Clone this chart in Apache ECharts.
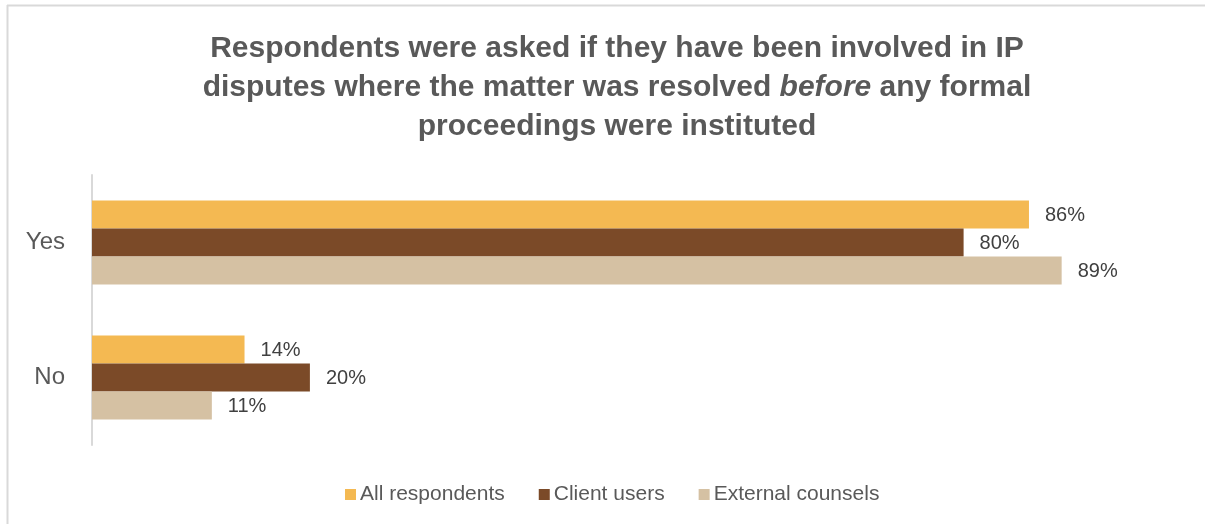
<!DOCTYPE html>
<html>
<head>
<meta charset="utf-8">
<script src="https://cdn.jsdelivr.net/npm/echarts@6/dist/echarts.min.js"></script>
<style>
  html, body { margin: 0; padding: 0; background: #ffffff; }
  #chart { width: 1205px; height: 524px; }
</style>
</head>
<body>
<div id="chart"></div>
<script>
// Survey answers, in percent of each respondent group
const categories = ['Yes', 'No'];
const seriesNames = ['All respondents', 'Client users', 'External counsels'];
const allRespondents = [86, 14];
const clientUsers = [80, 20];
const externalCounsels = [89, 11];
const seriesColors = ['#F4B952', '#7B4A28', '#D5C1A3'];

const FONT = 'Liberation Sans, Arial, sans-serif';
const chart = echarts.init(document.getElementById('chart'), null, { renderer: 'canvas' });

const values = [allRespondents, clientUsers, externalCounsels];

const series = seriesNames.map((name, i) => ({
  name: name,
  type: 'bar',
  data: values[i],
  barWidth: 28,
  barGap: '0%',
  barCategoryGap: '37.8%',
  itemStyle: { color: seriesColors[i] },
  label: {
    show: true,
    position: 'right',
    distance: 16,
    formatter: '{c}%',
    fontFamily: FONT,
    fontSize: 20,
    color: '#404040',
    offset: [0, 1]
  },
  silent: true
}));

chart.setOption({
  animation: false,
  backgroundColor: '#ffffff',
  title: {
    text: '{b|Respondents were asked if they have been involved in IP}\n{b|disputes where the matter was resolved }{i|before}{b| any formal}\n{b|proceedings were instituted}',
    left: 612,
    textAlign: 'center',
    top: 24,
    textStyle: {
      rich: {
        b: { fontFamily: FONT, fontWeight: 'bold', fontSize: 30, color: '#595959', lineHeight: 39 },
        i: { fontFamily: FONT, fontWeight: 'bold', fontStyle: 'italic', fontSize: 30, color: '#595959', lineHeight: 39 }
      }
    }
  },
  legend: {
    data: seriesNames,
    bottom: 14,
    left: 340,
    itemWidth: 11,
    itemHeight: 11,
    itemGap: 34,
    icon: 'rect',
    textStyle: { fontFamily: FONT, fontSize: 21, color: '#595959', padding: [0, 0, 0, -1] },
    selectedMode: false
  },
  grid: { left: 92, right: 23.5, top: 175, bottom: 79, containLabel: false },
  xAxis: {
    type: 'value',
    min: 0,
    max: 100,
    show: false
  },
  yAxis: {
    type: 'category',
    data: categories,
    inverse: true,
    axisLine: { show: true, lineStyle: { color: '#D9D9D9', width: 2 } },
    axisTick: { show: false },
    axisLabel: { fontFamily: FONT, fontSize: 24, color: '#595959', margin: 27 }
  },
  graphic: [
    { type: 'line', shape: { x1: 7, y1: 5.5, x2: 1205, y2: 5.5 }, style: { stroke: '#D9D9D9', lineWidth: 2 }, silent: true },
    { type: 'line', shape: { x1: 7.5, y1: 5, x2: 7.5, y2: 524 }, style: { stroke: '#D9D9D9', lineWidth: 2 }, silent: true }
  ],
  series: series
});
</script>
</body>
</html>
